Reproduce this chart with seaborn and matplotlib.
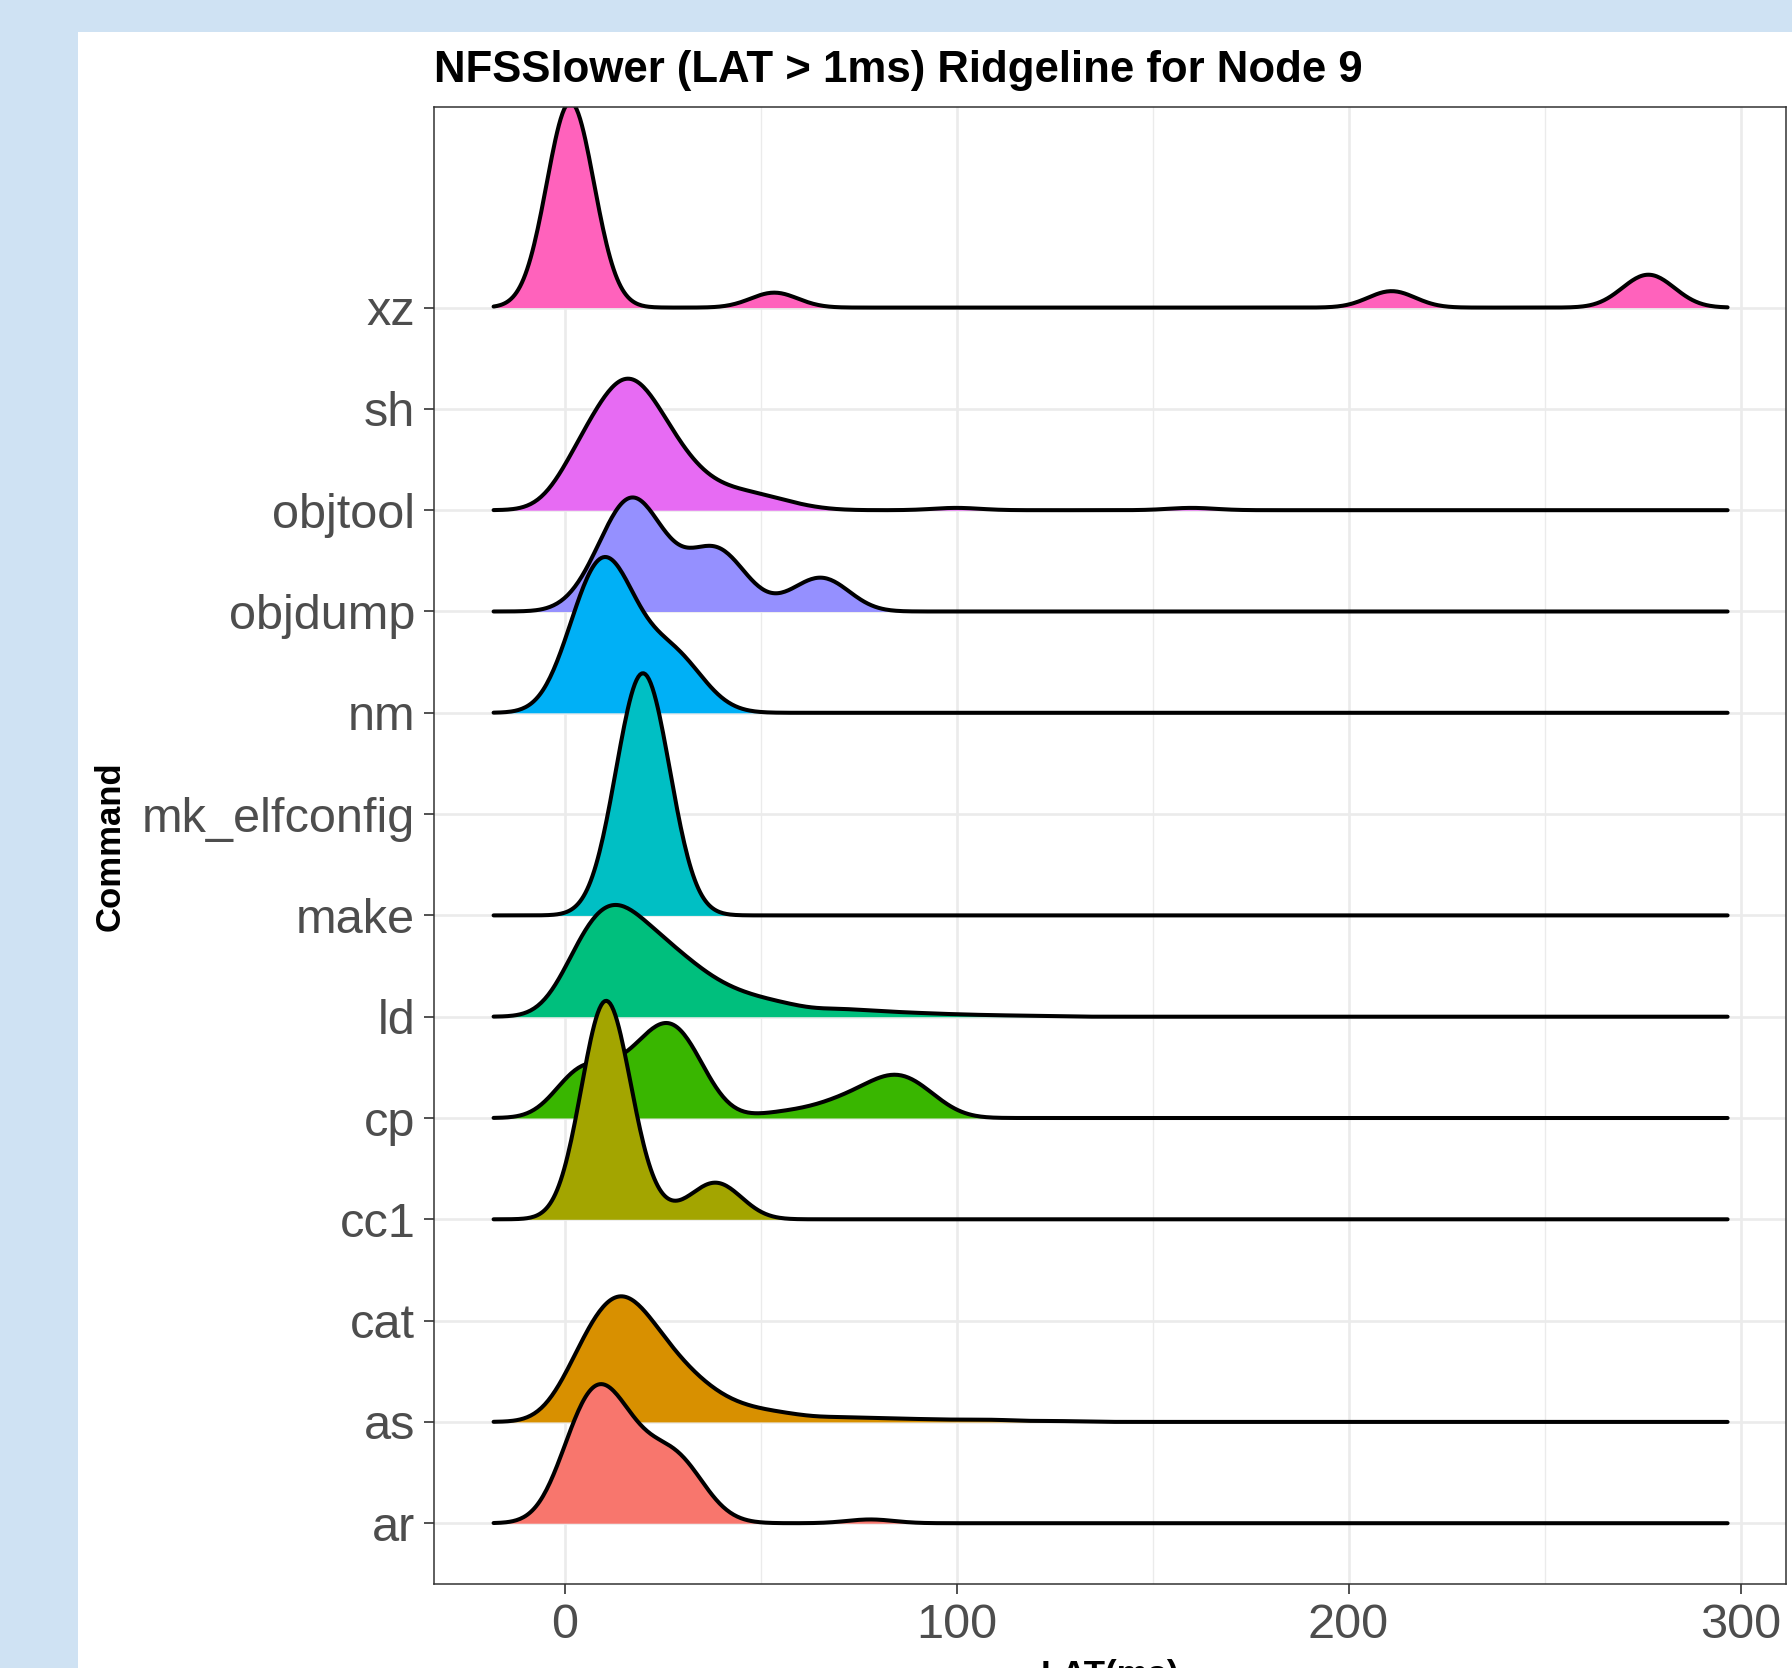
#!/usr/bin/env python3
from __future__ import annotations

import matplotlib
matplotlib.use("Agg")
import matplotlib.pyplot as plt
import matplotlib.transforms as mtransforms
import numpy as np
import pandas as pd
import seaborn as sns
from matplotlib.patches import Rectangle
from matplotlib.ticker import FixedLocator

# y axis order, bottom to top
COMMANDS = ["ar", "as", "cat", "cc1", "cp", "ld", "make", "mk_elfconfig",
            "nm", "objdump", "objtool", "sh", "xz"]

AR_LAT = [1, 5, 10, 15, 20, 25, 30, 35, 40, 78]
AR_N = [80, 160, 195, 120, 80, 80, 110, 30, 5, 12]

AS_LAT = [1, 5, 10, 15, 20, 25, 30, 35, 40, 45, 50, 55, 60, 70, 80, 90, 100, 110, 125]
AS_N = [50, 100, 160, 180, 140, 100, 70, 50, 28, 20, 15, 12, 10, 12, 9, 7, 5, 6, 3]

CC1_LAT = [9, 12, 20, 36, 41]
CC1_N = [40, 38, 4, 7, 7]

CP_LAT = [1.5, 5, 10, 15, 20, 25, 30, 35, 50, 55, 60, 65, 70, 75, 80, 85, 90, 95]
CP_N = [80, 76, 66, 60, 110, 150, 160, 62, 5, 10, 11, 16, 30, 35, 57, 75, 56, 23]

LD_LAT = [1.5, 5, 10, 15, 20, 25, 30, 35, 40, 45, 50, 55, 60, 70, 80, 90, 100, 110, 120]
LD_N = [50, 90, 140, 130, 100, 85, 68, 48, 34, 26, 20, 16, 13, 18, 12, 8, 5, 3, 2]

MAKE_LAT = [16, 20, 24]
MAKE_N = [2, 3, 2]

NM_LAT = [1, 4, 8, 12, 16, 20, 24, 28, 32, 36, 40]
NM_N = [60, 140, 220, 240, 140, 60, 90, 90, 70, 20, 5]

OBJDUMP_LAT = [5, 9, 13, 17, 21, 25, 30, 35, 39, 43, 47, 58, 63, 67, 71]
OBJDUMP_N = [20, 50, 100, 150, 100, 60, 40, 60, 90, 50, 20, 20, 40, 50, 20]

OBJTOOL_LAT = [1.5, 5, 10, 15, 20, 25, 30, 35, 40, 45, 50, 55, 60, 65, 100, 160]
OBJTOOL_N = [60, 80, 130, 195, 160, 110, 70, 38, 27, 24, 21, 13, 6, 2, 8, 8]

XZ_LAT = [1, 2, 53.5, 211, 274, 279]
XZ_N = [350, 340, 50, 55, 60, 60]

X_TICKS = [0, 100, 200, 300]
X_MINOR = [50, 150, 250]

TITLE = "NFSSlower (LAT > 1ms) Ridgeline for Node 9"
X_TITLE = "LAT(ms)"
Y_TITLE = "Command"

# ggplot hue palette for the ten commands that have a ridge
FILL = {
    "ar": "#F8766D", "as": "#D89000", "cc1": "#A3A500", "cp": "#39B600",
    "ld": "#00BF7D", "make": "#00BFC4", "nm": "#00B0F6", "objdump": "#9590FF",
    "objtool": "#E76BF3", "xz": "#FF62BC",
}

JOINT_BW = 6.0           # ms, one bandwidth for every ridge
DENSITY_RANGE = (-18.1, 296.7)
RIDGE_SCALE = 2.39       # tallest ridge, in rows

FIG_W, FIG_H = 1792, 1668
PANEL = (434, 107, 1786, 1584)   # left, top, right, bottom in px
BG = "#CFE2F3"


def ridge_frame() -> pd.DataFrame:
    parts = [
        ("ar", AR_LAT, AR_N), ("as", AS_LAT, AS_N), ("cc1", CC1_LAT, CC1_N),
        ("cp", CP_LAT, CP_N), ("ld", LD_LAT, LD_N), ("make", MAKE_LAT, MAKE_N),
        ("nm", NM_LAT, NM_N), ("objdump", OBJDUMP_LAT, OBJDUMP_N),
        ("objtool", OBJTOOL_LAT, OBJTOOL_N), ("xz", XZ_LAT, XZ_N),
    ]
    frames = [pd.DataFrame({"command": cmd, "lat": lat, "n": n}) for cmd, lat, n in parts]
    return pd.concat(frames, ignore_index=True)


def draw_ridges(ax: plt.Axes, frame: pd.DataFrame) -> None:
    ridges = []
    # top row first so lower ridges are painted over the ones above
    for row, cmd in reversed(list(enumerate(COMMANDS, start=1))):
        sub = frame[frame["command"] == cmd]
        if sub.empty:
            continue
        spread = np.sqrt(np.cov(sub["lat"], aweights=sub["n"]))
        z = 3 + 2 * (len(COMMANDS) - row)
        kws = dict(data=sub, x="lat", weights="n", bw_method=JOINT_BW / spread,
                   cut=80, clip=DENSITY_RANGE, gridsize=700, ax=ax)
        sns.kdeplot(**kws, fill=True, color=FILL[cmd], alpha=1, linewidth=0, zorder=z)
        fill = ax.collections[-1]
        sns.kdeplot(**kws, color="black", linewidth=2.9, zorder=z + 1)
        line = ax.lines[-1]
        line.set_solid_joinstyle("round")
        line.set_solid_capstyle("round")
        ridges.append((row, fill, line))

    peak = max(line.get_ydata().max() for _, _, line in ridges)
    scale = RIDGE_SCALE / peak
    for row, fill, line in ridges:
        tr = mtransforms.Affine2D().scale(1, scale).translate(0, row) + ax.transData
        fill.set_transform(tr)
        line.set_transform(tr)


def main() -> None:
    sns.set_style("white")
    plt.rcParams["font.family"] = ["Liberation Sans", "DejaVu Sans"]

    fig = plt.figure(figsize=(FIG_W / 100, FIG_H / 100), dpi=100, facecolor=BG)
    fig.patches.append(Rectangle((78 / FIG_W, 0), 1, 1 - 32 / FIG_H, transform=fig.transFigure,
                                 facecolor="white", edgecolor="none", zorder=-5))

    left, top, right, bottom = PANEL
    ax = fig.add_axes([left / FIG_W, 1 - bottom / FIG_H, (right - left) / FIG_W, (bottom - top) / FIG_H])
    ax.set_facecolor("white")

    draw_ridges(ax, ridge_frame())

    ax.set_xlim(-33.3, 311.6)
    ax.set_ylim(0.4, 14.98)
    ax.set_xticks(X_TICKS)
    ax.set_xticklabels([str(t) for t in X_TICKS])
    ax.xaxis.set_minor_locator(FixedLocator(X_MINOR))
    ax.set_yticks(range(1, len(COMMANDS) + 1))
    ax.set_yticklabels(COMMANDS)
    ax.set_xlabel("")
    ax.set_ylabel("")

    ax.set_axisbelow(True)
    ax.grid(which="major", color="#EBEBEB", linewidth=1.9)
    ax.grid(which="minor", axis="x", color="#EBEBEB", linewidth=0.95)
    for spine in ax.spines.values():
        spine.set_color("#333333")
        spine.set_linewidth(1.1)
        spine.set_zorder(60)
    ax.tick_params(axis="both", which="major", length=7.0, width=1.2, color="#333333",
                   labelsize=35, labelcolor="#4D4D4D", pad=6.5,
                   bottom=True, left=True)
    ax.tick_params(axis="x", which="minor", length=0)

    fig.text(left / FIG_W, 1 - 82 / FIG_H, TITLE, fontsize=31.5, fontweight="bold",
             ha="left", va="baseline", color="black")
    fig.text(110 / FIG_W, 1 - 846 / FIG_H, Y_TITLE, fontsize=25, fontweight="bold",
             rotation=90, ha="center", va="center", color="black")
    # the reference image crops this title at its bottom edge
    fig.text((left + right) / 2 / FIG_W, 1 - 1659 / FIG_H, X_TITLE, fontsize=25,
             fontweight="bold", ha="center", va="top", color="black")

    fig.savefig("out.png", dpi=100, facecolor=fig.get_facecolor())
    plt.close(fig)


if __name__ == "__main__":
    main()
